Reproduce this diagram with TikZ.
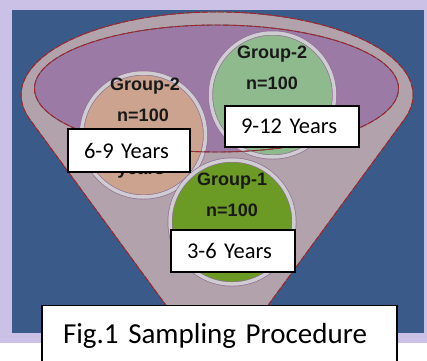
\documentclass[tikz,border=0pt]{standalone}
\usepackage{fontspec}
\setmainfont{Carlito}
\newfontfamily\grpfont{Liberation Sans}
\usepackage{tikz}
\usetikzlibrary{positioning}

\definecolor{lavender}{RGB}{203,192,230}
\definecolor{panelblue}{RGB}{58,90,138}
\definecolor{funnelfill}{RGB}{178,162,172}
\definecolor{rimpurple}{RGB}{156,122,166}
\definecolor{rimgrey}{RGB}{95,80,90}
\definecolor{rimred}{RGB}{170,30,40}
\definecolor{ringgrey}{RGB}{205,205,210}
\definecolor{ringpurple}{RGB}{150,110,150}
\definecolor{tanfill}{RGB}{203,163,143}
\definecolor{mintfill}{RGB}{142,186,142}
\definecolor{leaffill}{RGB}{107,155,36}

\begin{document}
\begin{tikzpicture}
  [x=1pt,y=1pt,
   rim line/.style={draw=rimgrey,line width=0.9pt,postaction={draw=rimred,line width=0.9pt,dash pattern=on 6pt off 2pt}},
   group/.style={circle,minimum size=124pt,inner sep=0pt,draw=ringpurple,line width=0.7pt,double=ringgrey,double distance=3.5pt},
   group text/.style={font=\grpfont\bfseries\fontsize{18}{18}\selectfont,text=black!90,inner sep=0pt},
   age box/.style={rectangle,fill=white,draw=black,line width=1.2pt,font=\fontsize{22.5}{24}\selectfont,align=left,inner xsep=16pt,inner ysep=0pt}]
  \clip (0,0) rectangle (427,360);
  \fill[lavender] (0,17) rectangle (427,360);
  \fill[panelblue] (12,27) rectangle (424,350);
  % funnel
  \path[fill=funnelfill,rim line] (404.3,240.5) arc[start angle=-17.2,end angle=197.2,x radius=196,y radius=83] -- (217,-15) -- cycle;
  \fill[rimpurple] (216.5,271.5) ellipse[x radius=182,y radius=63.5];
  % groups
  \node[group,fill=tanfill]  (c69)  at (143.5,225) {};
  \node[group,fill=mintfill] (c912) at (272.5,265) {};
  \node[group,fill=leaffill] (c36)  at (232,138) {};
  \draw[rim line] (216.5,271.5) ellipse[x radius=182,y radius=63.5];

  \node[group text] (g69)  at (145,274) {Group-2};
  \node[group text] (n69)  at (143,245) {n=100};
  \node[group text,anchor=base] (y69) at (141,186) {years};
  \node[group text] (g912) at (272,306) {Group-2};
  \node[group text] (n912) at (272,277) {n=100};
  \node[group text] (g36)  at (232,179) {Group-1};
  \node[group text] (n36)  at (232,150) {n=100};

  \node[age box,minimum height=43pt,text width=90pt]  (b69)  at (129,209.5) {6-9 Years};
  \node[age box,minimum height=41pt,text width=102pt] (b912) at (292,233.5) {9-12 Years};
  \node[age box,minimum height=42pt,text width=92pt]  (b36)  at (233,109) {3-6 Years};
  \node[age box,anchor=north,minimum height=60pt,text width=313pt,inner xsep=21pt,font=\fontsize{29}{30}\selectfont] (fig) at (219.5,55) {Fig.1 Sampling Procedure};
\end{tikzpicture}
\end{document}
